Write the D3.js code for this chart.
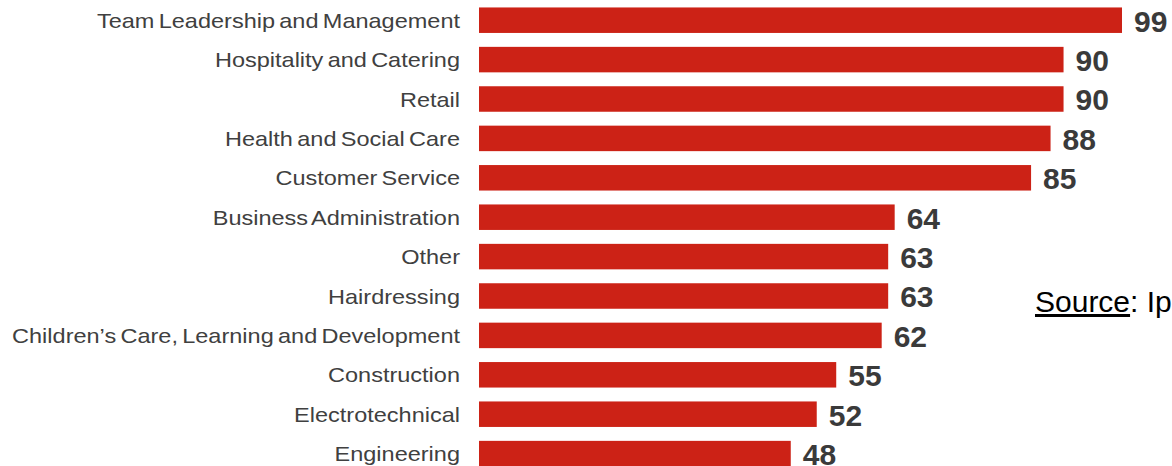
<!DOCTYPE html>
<html>
<head>
<meta charset="utf-8">
<script src="https://cdn.jsdelivr.net/npm/d3@7"></script>
<style>
  html, body { margin: 0; padding: 0; background: #ffffff; overflow: hidden; }
  svg { display: block; }
</style>
</head>
<body>
<svg id="chart" width="1172" height="466"></svg>
<script>
// Apprenticeship framework areas, ordered from highest to lowest
const categories = [
  "Team Leadership and Management",
  "Hospitality and Catering",
  "Retail",
  "Health and Social Care",
  "Customer Service",
  "Business Administration",
  "Other",
  "Hairdressing",
  "Children\u2019s Care, Learning and Development",
  "Construction",
  "Electrotechnical",
  "Engineering"
];
const values = [99, 90, 90, 88, 85, 64, 63, 63, 62, 55, 52, 48];
const sourceLabel = "Source";
const sourceRest = ": Ipsos MORI";

const svg = d3.select("#chart");
const fontFamily = "'Liberation Sans', Arial, sans-serif";

const x = d3.scaleLinear().domain([0, 99]).range([479, 1122]);

const innerPad = 0.353;
const y = d3.scaleBand()
  .domain(categories)
  .range([0.5, 0.5 + categories.length * 39.4])
  .paddingInner(innerPad)
  .paddingOuter(innerPad / 2);

const rows = categories.map((c, i) => ({ category: c, value: values[i] }));

// bars
svg.append("g")
  .selectAll("rect")
  .data(rows)
  .join("rect")
  .attr("x", x(0))
  .attr("y", d => y(d.category))
  .attr("width", d => x(d.value) - x(0))
  .attr("height", y.bandwidth())
  .attr("fill", "#cc2216");

// category labels: slightly wide lettering with tight word gaps
svg.append("g")
  .selectAll("text")
  .data(rows)
  .join("text")
  .attr("transform", d => `translate(460,${y(d.category) + y.bandwidth() / 2}) scale(1.12,1)`)
  .attr("dy", "0.36em")
  .attr("text-anchor", "end")
  .attr("font-family", fontFamily)
  .attr("font-size", 21)
  .attr("word-spacing", -2)
  .attr("fill", "#404040")
  .text(d => d.category);

// value labels
svg.append("g")
  .selectAll("text")
  .data(rows)
  .join("text")
  .attr("x", d => x(d.value) + 12)
  .attr("y", d => y(d.category) + y.bandwidth() / 2)
  .attr("dy", "0.38em")
  .attr("font-family", fontFamily)
  .attr("font-weight", "bold")
  .attr("font-size", 30)
  .attr("fill", "#3a3a3a")
  .text(d => d.value);

// source note
const src = svg.append("text")
  .attr("x", 1035)
  .attr("y", 312)
  .attr("font-family", fontFamily)
  .attr("font-size", 30)
  .attr("fill", "#000000");
src.append("tspan").attr("text-decoration", "underline").text(sourceLabel);
src.append("tspan").text(sourceRest);
</script>
</body>
</html>
